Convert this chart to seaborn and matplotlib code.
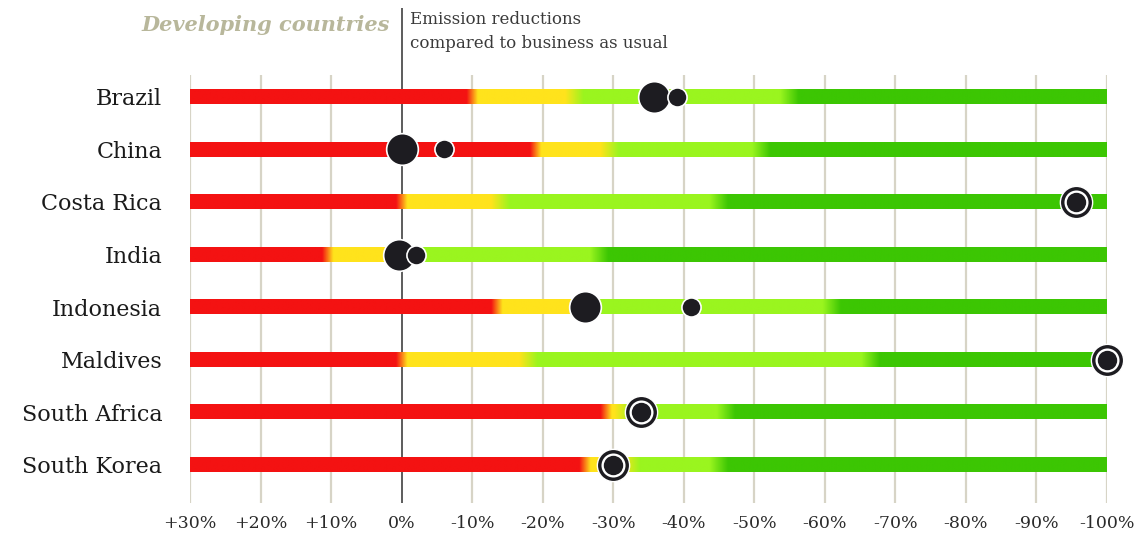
import numpy as np
import pandas as pd
import matplotlib
matplotlib.use("Agg")
import matplotlib.pyplot as plt
import seaborn as sns
from matplotlib.colors import to_rgb

# ---------------- data ----------------
countries = ["Brazil", "China", "Costa Rica", "India", "Indonesia",
             "Maldives", "South Africa", "South Korea"]
# segment boundaries, in % reduction vs business as usual (negative = increase)
red_end = [10, 19, 0, -10.5, 13.5, 0, 29, 26]
yellow_end = [24.5, 29.5, 14, 1, 27, 18, 31.5, 32.5]
lgreen_end = [55, 51, 45, 28, 61, 66.5, 46, 45]
# pledge markers
big_dot = [35.8, 0, np.nan, -0.3, 26, np.nan, np.nan, np.nan]
small_dot = [39, 6, np.nan, 2, 41, np.nan, np.nan, np.nan]
ring_dot = [np.nan, np.nan, 95.6, np.nan, np.nan, 100, 34, 30]
tick_values = list(range(-30, 101, 10))
tick_labels = ["+30%", "+20%", "+10%", "0%", "-10%", "-20%", "-30%", "-40%",
               "-50%", "-60%", "-70%", "-80%", "-90%", "-100%"]

# ---------------- style ----------------
sns.set_style("white")
plt.rcParams["font.family"] = ["DejaVu Serif"]

RED = np.array(to_rgb("#f41212"))
YEL = np.array(to_rgb("#ffe31c"))
LGR = np.array(to_rgb("#9af51f"))
DGR = np.array(to_rgb("#3cc603"))
DOT = "#1d1c21"

fig = plt.figure(figsize=(11.47, 5.42), dpi=100)
ax = fig.add_axes([190 / 1147, 39 / 542, 917 / 1147, 495 / 542])
XMIN, XMAX = -30, 100
YBOT, YTOP = 7.733, -1.695

# grid lines
for t in tick_values:
    if t == 0:
        continue
    ax.vlines(t, -0.42, YBOT, color="#d7d4c6", lw=1.6, zorder=0)
ax.vlines(0, YTOP, YBOT, color="#5c5c5c", lw=1.4, zorder=0)

# gradient bars
xs = np.linspace(XMIN, XMAX, 1400)


def smooth_step(x, edge, width):
    return np.clip((x - edge) / width + 0.5, 0, 1)


for i in range(len(countries)):
    col = np.tile(RED, (xs.size, 1))
    w1 = smooth_step(xs, red_end[i], 1.6)[:, None]
    col = col * (1 - w1) + YEL * w1
    w2 = smooth_step(xs, yellow_end[i], 2.6)[:, None]
    col = col * (1 - w2) + LGR * w2
    w3 = smooth_step(xs, lgreen_end[i], 2.6)[:, None]
    col = col * (1 - w3) + DGR * w3
    img = col[None, :, :]
    ax.imshow(img, extent=(XMIN, XMAX, i + 0.14, i - 0.14), aspect="auto",
              interpolation="bilinear", zorder=2)

rows = np.arange(len(countries))
df_big = pd.DataFrame({"value": big_dot, "row": rows}).dropna()
df_small = pd.DataFrame({"value": small_dot, "row": rows}).dropna()
df_ring = pd.DataFrame({"value": ring_dot, "row": rows}).dropna()

common = dict(x="value", y="row", ax=ax, legend=False, clip_on=False)
sns.scatterplot(data=df_big, s=520, color=DOT, edgecolor="white",
                linewidth=1.2, zorder=4, **common)
sns.scatterplot(data=df_small, s=190, color=DOT, edgecolor="white",
                linewidth=1.2, zorder=5, **common)
sns.scatterplot(data=df_ring, s=540, color=DOT, edgecolor="white",
                linewidth=1.0, zorder=4, **common)
sns.scatterplot(data=df_ring, s=300, color="white", edgecolor="white",
                linewidth=0, zorder=5, **common)
sns.scatterplot(data=df_ring, s=195, color=DOT, edgecolor=DOT,
                linewidth=0, zorder=6, **common)

ax.set_xlim(XMIN, XMAX)
ax.set_ylim(YBOT, YTOP)
ax.set_xlabel("")
ax.set_ylabel("")
ax.set_xticks(tick_values)
ax.set_xticklabels(tick_labels, fontsize=12.5, color="#2a2a2a")
ax.set_yticks(rows)
ax.set_yticklabels(countries, fontsize=16, color="#1a1a1a")
ax.tick_params(axis="x", length=0, pad=9)
ax.tick_params(axis="y", length=0, pad=20)
for sp in ax.spines.values():
    sp.set_visible(False)
ax.set_facecolor("none")

fig.text(390 / 1147, 1 - 25 / 542, "Developing countries", ha="right",
         va="center", fontsize=15, style="italic", weight="bold",
         color="#b8b79b")
fig.text(410 / 1147, 1 - 20 / 542, "Emission reductions", ha="left",
         va="center", fontsize=12, color="#3a3a3a")
fig.text(410 / 1147, 1 - 44 / 542, "compared to business as usual", ha="left",
         va="center", fontsize=12, color="#3a3a3a")

fig.savefig("out.png", dpi=100)
